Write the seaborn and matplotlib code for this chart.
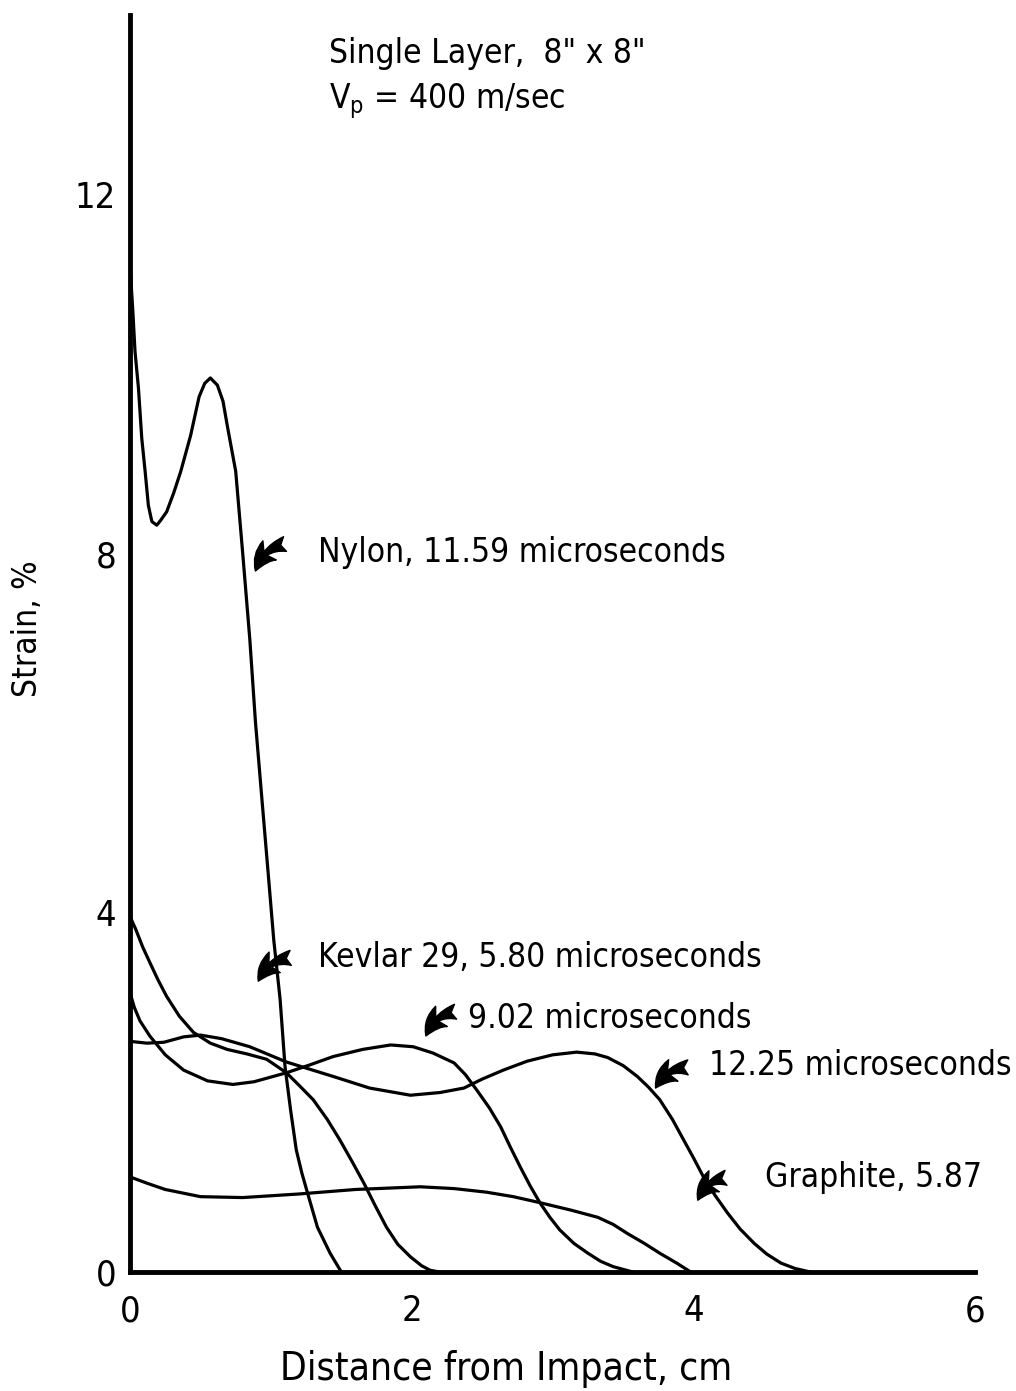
import matplotlib
matplotlib.use("Agg")
import matplotlib.pyplot as plt
import seaborn as sns
import pandas as pd

# Strain profiles along the yarn, distance from impact point (cm) vs strain (%)
nylon_x = [0.00, 0.02, 0.035, 0.06, 0.083, 0.107, 0.13, 0.155, 0.19, 0.22, 0.26,
           0.31, 0.36, 0.43, 0.49, 0.53, 0.57, 0.62, 0.66, 0.69, 0.75, 0.80, 0.85,
           0.89, 0.93, 0.98, 1.02, 1.065, 1.10, 1.14, 1.18, 1.22, 1.26, 1.33, 1.42,
           1.50]
nylon_y = [11.2, 10.7, 10.26, 9.84, 9.29, 8.92, 8.54, 8.36, 8.32, 8.38, 8.47,
           8.68, 8.92, 9.32, 9.75, 9.90, 9.96, 9.88, 9.70, 9.43, 8.92, 8.0, 7.05,
           6.13, 5.38, 4.45, 3.70, 3.04, 2.29, 1.80, 1.36, 1.10, 0.88, 0.50, 0.21,
           0.0]

kevlar_580_x = [0.00, 0.04, 0.09, 0.14, 0.20, 0.26, 0.35, 0.45, 0.57, 0.69, 0.83,
                0.97, 1.11, 1.20, 1.30, 1.40, 1.49, 1.58, 1.66, 1.74, 1.82, 1.90,
                1.99, 2.07, 2.13, 2.20]
kevlar_580_y = [3.96, 3.82, 3.62, 3.45, 3.25, 3.07, 2.85, 2.67, 2.55, 2.48, 2.43,
                2.37, 2.22, 2.08, 1.92, 1.70, 1.47, 1.22, 0.99, 0.74, 0.50, 0.31,
                0.17, 0.07, 0.02, 0.0]

kevlar_902_x = [0.00, 0.03, 0.07, 0.14, 0.25, 0.38, 0.55, 0.73, 0.88, 1.11, 1.28,
                1.44, 1.65, 1.85, 2.01, 2.15, 2.30, 2.38, 2.46, 2.55, 2.63, 2.70,
                2.77, 2.84, 2.91, 2.98, 3.05, 3.15, 3.25, 3.34, 3.43, 3.57]
kevlar_902_y = [3.11, 2.95, 2.80, 2.63, 2.42, 2.25, 2.13, 2.09, 2.12, 2.22, 2.31,
                2.40, 2.48, 2.53, 2.51, 2.44, 2.33, 2.20, 2.03, 1.83, 1.62, 1.39,
                1.17, 0.96, 0.77, 0.61, 0.47, 0.32, 0.21, 0.12, 0.06, 0.0]

kevlar_1225_x = [0.00, 0.12, 0.24, 0.38, 0.50, 0.65, 0.85, 1.11, 1.44, 1.70, 1.99,
                 2.20, 2.37, 2.50, 2.65, 2.82, 3.00, 3.17, 3.30, 3.39, 3.50, 3.60,
                 3.68, 3.76, 3.85, 3.93, 4.00, 4.07, 4.15, 4.24, 4.33, 4.43, 4.52,
                 4.62, 4.72, 4.83]
kevlar_1225_y = [2.57, 2.55, 2.56, 2.62, 2.64, 2.60, 2.51, 2.34, 2.18, 2.05, 1.97,
                 2.00, 2.05, 2.15, 2.25, 2.35, 2.42, 2.45, 2.43, 2.39, 2.30, 2.18,
                 2.06, 1.92, 1.70, 1.47, 1.27, 1.06, 0.86, 0.66, 0.48, 0.32, 0.20,
                 0.10, 0.04, 0.0]

graphite_x = [0.00, 0.12, 0.25, 0.50, 0.80, 1.20, 1.60, 2.06, 2.30, 2.53, 2.72,
              2.89, 3.13, 3.32, 3.43, 3.53, 3.65, 3.76, 3.88, 3.98]
graphite_y = [1.06, 0.99, 0.92, 0.84, 0.83, 0.87, 0.92, 0.95, 0.93, 0.89, 0.84,
              0.78, 0.69, 0.61, 0.53, 0.43, 0.32, 0.21, 0.10, 0.0]

# Curve labels: text, text anchor (x, y), arrow tip, arrow tail
labels = ["Nylon, 11.59 microseconds", "Kevlar 29, 5.80 microseconds",
          "9.02 microseconds", "12.25 microseconds", "Graphite, 5.87"]
label_pos = [(1.335, 8.02), (1.335, 3.50), (2.40, 2.83), (4.11, 2.30), (4.51, 1.05)]
arrow_tip = [(0.89, 7.81), (0.91, 3.24), (2.10, 2.63), (3.73, 2.05), (4.03, 0.80)]
arrow_tail = [(1.10, 8.11), (1.14, 3.50), (2.31, 2.90), (3.96, 2.28), (4.23, 1.05)]

x_ticks = [0, 1, 2, 3, 4, 5, 6]
x_tick_labels = ["0", "", "2", "", "4", "", "6"]
y_ticks = [0, 2, 4, 6, 8, 10, 12, 14]
y_tick_labels = ["0", "", "4", "", "8", "", "12", ""]

sns.set_theme(style="white")
plt.rcParams["font.family"] = ["DejaVu Sans"]
plt.rcParams["font.stretch"] = "condensed"
plt.rcParams["text.color"] = "black"
FS = 24

fig = plt.figure(figsize=(10.16, 13.91), dpi=100)
ax = fig.add_axes([0.128, 0.0855, 0.832, 0.9035])

series = [(nylon_x, nylon_y), (kevlar_580_x, kevlar_580_y),
          (kevlar_902_x, kevlar_902_y), (kevlar_1225_x, kevlar_1225_y),
          (graphite_x, graphite_y)]
for xs, ys in series:
    df = pd.DataFrame({"x": xs, "y": ys})
    sns.lineplot(data=df, x="x", y="y", ax=ax, color="black", linewidth=2.3,
                 sort=False, estimator=None)

for text, (tx, ty), tip, tail in zip(labels, label_pos, arrow_tip, arrow_tail):
    ax.text(tx, ty, text, fontsize=FS, ha="left", va="center", color="black",
            fontstretch="condensed")
    ax.annotate("", xy=tip, xytext=tail,
                arrowprops=dict(arrowstyle="fancy,head_length=1.5,head_width=1.4,tail_width=0.9",
                                connectionstyle="arc3,rad=0.3", color="black",
                                shrinkA=0, shrinkB=0))

ax.text(1.41, 13.58, 'Single Layer,  8" x 8"', fontsize=FS, ha="left", va="center",
        color="black", fontstretch="condensed")
ax.text(1.41, 13.04, r"V$_\mathregular{p}$ = 400 m/sec", fontsize=FS, ha="left",
        va="center", color="black", fontstretch="condensed")

ax.set_xlim(0, 6)
ax.set_ylim(0, 14)
ax.set_xticks(x_ticks)
ax.set_xticklabels(x_tick_labels, fontstretch="condensed")
ax.set_yticks(y_ticks)
ax.set_yticklabels(y_tick_labels, fontstretch="condensed")
ax.tick_params(axis="both", direction="in", length=14, width=3.5, color="black",
               labelsize=26, labelcolor="black")
ax.tick_params(axis="x", pad=16)
ax.tick_params(axis="y", pad=10)

for side in ["top", "right"]:
    ax.spines[side].set_visible(False)
for side in ["left", "bottom"]:
    ax.spines[side].set_linewidth(3.5)
    ax.spines[side].set_color("black")

ax.set_xlabel("Distance from Impact, cm", fontsize=28, color="black",
              fontstretch="condensed")
ax.set_ylabel("Strain, %", fontsize=24, color="black", fontstretch="condensed")
ax.xaxis.set_label_coords(0.445, -0.062)
ax.yaxis.set_label_coords(-0.102, 0.512)
ax.grid(False)

fig.savefig("out.png", dpi=100, facecolor="white")
